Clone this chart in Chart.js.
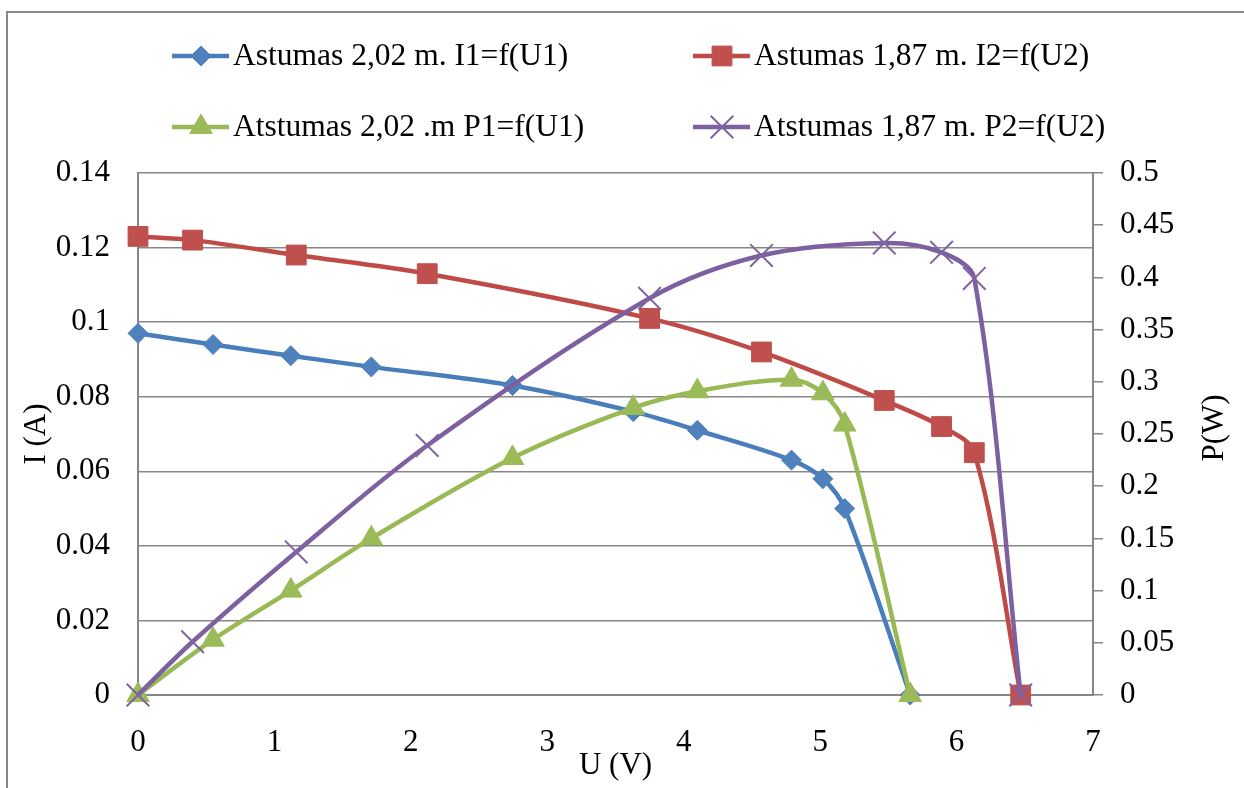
<!DOCTYPE html>
<html>
<head>
<meta charset="utf-8">
<script src="https://cdn.jsdelivr.net/npm/chart.js"></script>
<style>
  body { margin: 0; background: #fff; }
  #wrap { width: 1244px; height: 788px; }
</style>
</head>
<body>
<div id="wrap"><canvas id="chart" width="1244" height="788"></canvas></div>
<script>
// distance 2,02 m
const u1 = [0, 0.55, 1.12, 1.71, 2.745, 3.63, 4.10, 4.79, 5.02, 5.18, 5.66]
const i1 = [0.097, 0.094, 0.091, 0.088, 0.083, 0.076, 0.071, 0.063, 0.058, 0.050, 0]
const p1 = [0, 0.053, 0.100, 0.150, 0.227, 0.275, 0.291, 0.302, 0.289, 0.259, 0]

// distance 1,87 m
const u2 = [0, 0.40, 1.16, 2.12, 3.75, 4.57, 5.47, 5.89, 6.13, 6.47]
const i2 = [0.123, 0.122, 0.118, 0.113, 0.101, 0.092, 0.079, 0.072, 0.065, 0]
const p2 = [0, 0.051, 0.137, 0.239, 0.380, 0.421, 0.433, 0.424, 0.399, 0]

const names = [
    "Astumas 2,02 m. I1=f(U1)",
    "Astumas 1,87 m. I2=f(U2)",
    "Atstumas 2,02 .m P1=f(U1)",
    "Atstumas 1,87 m. P2=f(U2)"
]

// axis ranges (tick labels come from these)
const uTicks = [0, 7, 1]
const iTicks = [0, 0.14, 0.02]
const pTicks = [0, 0.5, 0.05]

const FONT = '"Liberation Serif", "Times New Roman", serif'
const GRID = '#878787'

function pts(xs, ys) {
    return xs.map(function (x, k) { return { x: x, y: ys[k] } })
}
function fmt(v) {
    return String(Number(v.toFixed(4)))
}

// frame, legend and right axis title
const extras = {
    id: 'extras',
    afterDraw: function (chart) {
        const ctx = chart.ctx
        ctx.save()
        ctx.strokeStyle = GRID
        ctx.lineWidth = 2
        ctx.strokeRect(7, 12, 1400, 1000)

        const cols = [172, 693]
        const rows = [56, 127]
        chart.data.datasets.forEach(function (ds, k) {
            const x0 = cols[k % 2]
            const y0 = rows[Math.floor(k / 2)]
            ctx.strokeStyle = ds.borderColor
            ctx.lineWidth = 4.5
            ctx.beginPath()
            ctx.moveTo(x0, y0)
            ctx.lineTo(x0 + 57, y0)
            ctx.stroke()
            ctx.fillStyle = ds.pointBackgroundColor
            ctx.strokeStyle = ds.pointBorderColor
            ctx.lineWidth = ds.pointBorderWidth
            Chart.helpers.drawPoint(ctx, {
                pointStyle: ds.pointStyle,
                radius: ds.pointRadius,
                rotation: 0,
                borderWidth: ds.pointBorderWidth
            }, x0 + 29, y0)
            ctx.fillStyle = '#000'
            ctx.font = '31.5px ' + FONT
            ctx.textBaseline = 'middle'
            ctx.textAlign = 'left'
            ctx.fillText(ds.label, x0 + 61, y0 + 1)
        })

        ctx.font = '31px ' + FONT
        ctx.translate(1215, 428)
        ctx.rotate(-Math.PI / 2)
        ctx.textAlign = 'center'
        ctx.fillText('P(W)', 0, 0)
        ctx.restore()
    }
}

new Chart(document.getElementById('chart'), {
    type: 'line',
    data: {
        datasets: [{
            label: names[0],
            data: pts(u1, i1),
            yAxisID: 'y',
            borderColor: '#4A7EBB',
            pointBackgroundColor: '#4F81BD',
            pointBorderColor: '#4F81BD',
            pointBorderWidth: 1,
            pointStyle: 'rectRot',
            pointRadius: 10,
            order: 4
        }, {
            label: names[1],
            data: pts(u2, i2),
            yAxisID: 'y',
            borderColor: '#BE4B48',
            pointBackgroundColor: '#C0504D',
            pointBorderColor: '#C0504D',
            pointBorderWidth: 1,
            pointStyle: 'rect',
            pointRadius: 14,
            order: 3
        }, {
            label: names[2],
            data: pts(u1, p1),
            yAxisID: 'y1',
            borderColor: '#98B954',
            pointBackgroundColor: '#9BBB59',
            pointBorderColor: '#9BBB59',
            pointBorderWidth: 1,
            pointStyle: 'triangle',
            pointRadius: 13,
            order: 2
        }, {
            label: names[3],
            data: pts(u2, p2),
            yAxisID: 'y1',
            borderColor: '#7D60A0',
            pointBackgroundColor: '#8064A2',
            pointBorderColor: '#8064A2',
            pointBorderWidth: 2,
            pointStyle: 'crossRot',
            pointRadius: 16,
            order: 1
        }]
    },
    options: {
        responsive: false,
        animation: false,
        layout: { padding: { top: 173, left: 0, right: 0, bottom: 0 } },
        elements: {
            line: { borderWidth: 4.5, tension: 0.33, fill: false },
            point: { hoverRadius: 10 }
        },
        datasets: { line: { clip: false } },
        plugins: {
            legend: { display: false },
            tooltip: { enabled: false }
        },
        scales: {
            x: {
                type: 'linear',
                min: uTicks[0],
                max: uTicks[1],
                afterFit: function (s) { s.height = 93 },
                grid: { display: false, drawTicks: false },
                border: { display: true, color: GRID, width: 2 },
                ticks: {
                    stepSize: uTicks[2],
                    padding: 29,
                    color: '#000',
                    font: { family: FONT, size: 31 },
                    maxRotation: 0,
                    callback: fmt
                },
                title: {
                    display: true,
                    text: 'U (V)',
                    color: '#000',
                    padding: { top: 0, bottom: 4 },
                    font: { family: FONT, size: 31 }
                }
            },
            y: {
                position: 'left',
                min: iTicks[0],
                max: iTicks[1],
                afterFit: function (s) { s.width = 138 },
                grid: { color: GRID, lineWidth: 1.5, drawTicks: false },
                border: { display: true, color: GRID, width: 2 },
                ticks: {
                    stepSize: iTicks[2],
                    padding: 28,
                    color: '#000',
                    font: { family: FONT, size: 31 },
                    callback: fmt
                },
                title: {
                    display: true,
                    text: 'I (A)',
                    color: '#000',
                    padding: { top: 18, bottom: 0 },
                    font: { family: FONT, size: 31 }
                }
            },
            y1: {
                position: 'right',
                min: pTicks[0],
                max: pTicks[1],
                afterFit: function (s) { s.width = 151 },
                grid: { color: GRID, lineWidth: 1.5, drawOnChartArea: false, drawTicks: true, tickLength: 10 },
                border: { display: true, color: GRID, width: 2 },
                ticks: {
                    stepSize: pTicks[2],
                    padding: 17,
                    color: '#000',
                    font: { family: FONT, size: 31 },
                    callback: fmt
                }
            }
        }
    },
    plugins: [extras]
})
</script>
</body>
</html>
